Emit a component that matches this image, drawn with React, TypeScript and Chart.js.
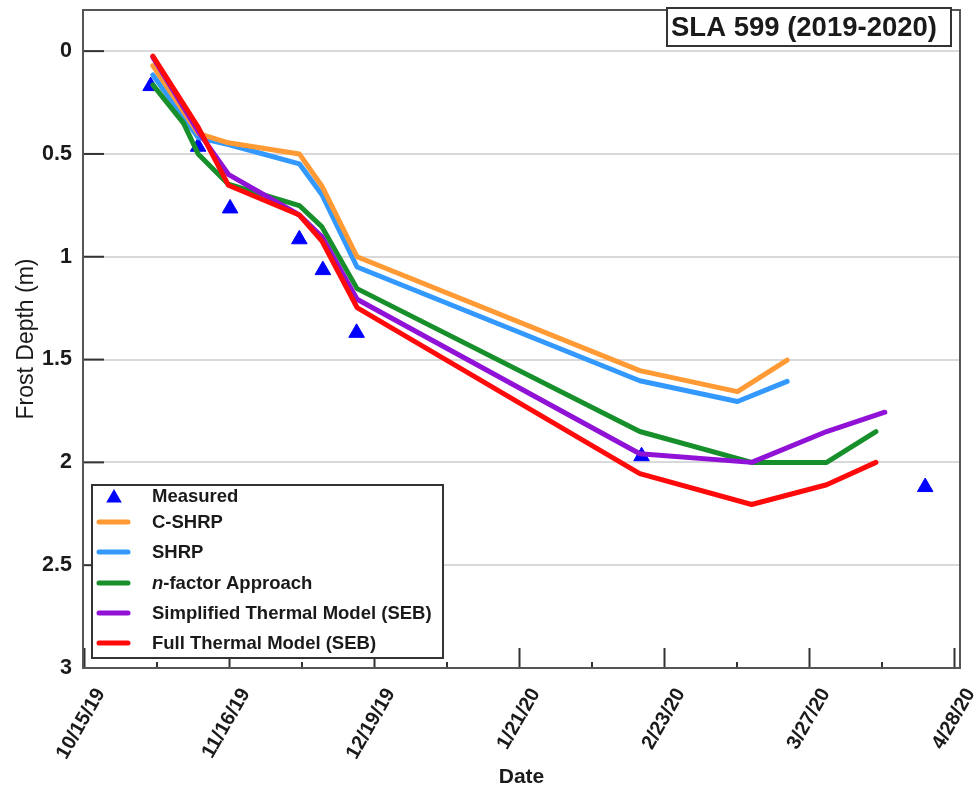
import React, { useEffect, useRef } from 'react';
import { Chart, registerables } from 'chart.js';

Chart.register(...registerables);

// ---- data (x in days after 10/15/19, y = frost depth in m) ----
const X_TICK_LABELS = ['10/15/19', '11/16/19', '12/19/19', '1/21/20', '2/23/20', '3/27/20', '4/28/20'];
const X_TICK_DAYS = [0, 32.667, 65.333, 98, 130.667, 163.333, 196];
const Y_TICK_VALUES = [0, 0.5, 1, 1.5, 2, 2.5, 3];

const MEASURED_DAYS = [14.9, 25.6, 32.8, 48.4, 53.7, 61.3, 125.5, 189.4];
const MEASURED_DEPTH = [0.17, 0.465, 0.765, 0.915, 1.065, 1.37, 1.97, 2.12];

const CSHRP_DAYS = [15.4, 25.6, 32.4, 48.4, 53.5, 61.4, 125.1, 147.1, 158.3];
const CSHRP_DEPTH = [0.07, 0.4, 0.446, 0.5, 0.657, 1.0, 1.554, 1.656, 1.503];

const SHRP_DAYS = [15.4, 25.6, 32.4, 48.4, 53.5, 61.4, 125.1, 147.1, 158.3];
const SHRP_DEPTH = [0.116, 0.42, 0.454, 0.548, 0.698, 1.05, 1.603, 1.704, 1.606];

const NFACTOR_DAYS = [15.4, 22.3, 25.6, 32.4, 48.4, 53.5, 61.4, 125.1, 150.3, 167.2, 178.3];
const NFACTOR_DEPTH = [0.164, 0.35, 0.5, 0.647, 0.751, 0.855, 1.155, 1.85, 2.0, 2.0, 1.85];

const SIMPLIFIED_DAYS = [15.4, 25.6, 32.4, 48.4, 53.5, 61.4, 125.1, 150.3, 167.2, 180.3];
const SIMPLIFIED_DEPTH = [0.03, 0.39, 0.599, 0.797, 0.903, 1.207, 1.958, 2.0, 1.85, 1.756];

const FULL_DAYS = [15.4, 25.6, 32.4, 48.4, 53.5, 61.4, 125.1, 150.3, 167.2, 178.3];
const FULL_DEPTH = [0.024, 0.37, 0.652, 0.797, 0.924, 1.247, 2.055, 2.205, 2.109, 2.0];

const SERIES_LABELS = [
  'Measured',
  'C-SHRP',
  'SHRP',
  'n-factor Approach',
  'Simplified Thermal Model (SEB)',
  'Full Thermal Model (SEB)',
];
const SERIES_COLORS = ['#0000FF', '#FF9A35', '#3399FF', '#17902B', '#9012D6', '#FF0A0A'];
const CHART_TITLE = 'SLA 599 (2019-2020)';

const FONT = "'Liberation Sans', Arial, sans-serif";
const TEXT_COLOR = '#1a1a1a';

const pts = (xs: number[], ys: number[]) => xs.map((x, i) => ({ x, y: ys[i] }));

const decorPlugin = {
  id: 'decor',
  afterDraw(chart: any) {
    const { ctx, chartArea: a, scales } = chart;
    const xs = scales.x;
    const ys = scales.y;
    ctx.save();
    const seg = (x1: number, y1: number, x2: number, y2: number) => {
      ctx.beginPath();
      ctx.moveTo(x1, y1);
      ctx.lineTo(x2, y2);
      ctx.stroke();
    };
    // inward tick marks
    ctx.strokeStyle = '#333';
    ctx.lineWidth = 2;
    Y_TICK_VALUES.forEach((v) => {
      const y = ys.getPixelForValue(v);
      seg(a.left, y, a.left + 21, y);
    });
    X_TICK_DAYS.forEach((d, i) => {
      const x = xs.getPixelForValue(d);
      seg(x, a.bottom, x, a.bottom - 20);
      if (i < X_TICK_DAYS.length - 1) {
        const xm = xs.getPixelForValue((d + X_TICK_DAYS[i + 1]) / 2);
        seg(xm, a.bottom, xm, a.bottom - 6);
      }
    });
    // frame
    ctx.strokeStyle = '#555';
    ctx.lineWidth = 2;
    ctx.strokeRect(a.left, a.top, a.right - a.left, a.bottom - a.top);

    // title box
    const tbx = 667, tby = 8, tbw = 284, tbh = 38;
    ctx.fillStyle = '#fff';
    ctx.fillRect(tbx, tby, tbw, tbh);
    ctx.strokeStyle = '#333';
    ctx.lineWidth = 2;
    ctx.strokeRect(tbx, tby, tbw, tbh);
    ctx.fillStyle = TEXT_COLOR;
    ctx.font = `bold 27.5px ${FONT}`;
    ctx.textBaseline = 'middle';
    ctx.textAlign = 'left';
    ctx.fillText(CHART_TITLE, tbx + 4, tby + 20);

    // legend box
    const lx = 92, ly = 485, lw = 351, lh = 173;
    ctx.fillStyle = '#fff';
    ctx.fillRect(lx, ly, lw, lh);
    ctx.strokeStyle = '#333';
    ctx.lineWidth = 2;
    ctx.strokeRect(lx, ly, lw, lh);
    const rowY = [496, 522, 552, 583, 613, 643];
    const ds = chart.data.datasets;
    ds.forEach((d: any, i: number) => {
      const y = rowY[i];
      if (i === 0) {
        ctx.fillStyle = d.backgroundColor;
        const r = 9, cx = 114, cy = y + 2;
        ctx.beginPath();
        ctx.moveTo(cx, cy - r);
        ctx.lineTo(cx + r * 0.866, cy + r / 2);
        ctx.lineTo(cx - r * 0.866, cy + r / 2);
        ctx.closePath();
        ctx.fill();
      } else {
        ctx.strokeStyle = d.borderColor;
        ctx.lineWidth = 5;
        ctx.lineCap = 'round';
        seg(99, y, 128, y);
      }
      ctx.fillStyle = TEXT_COLOR;
      ctx.textAlign = 'left';
      ctx.textBaseline = 'middle';
      const label: string = d.label;
      let tx = 152;
      if (label.startsWith('n-')) {
        ctx.font = `italic bold 18.5px ${FONT}`;
        ctx.fillText('n', tx, y + 1);
        tx += ctx.measureText('n').width;
        ctx.font = `bold 18.5px ${FONT}`;
        ctx.fillText(label.slice(1), tx, y + 1);
      } else {
        ctx.font = `bold 18.5px ${FONT}`;
        ctx.fillText(label, tx, y + 1);
      }
    });
    ctx.restore();
  },
};

export default function App() {
  const ref = useRef<HTMLCanvasElement>(null);
  useEffect(() => {
    if (!ref.current) return;
    const lineDs = (idx: number, xs: number[], ys: number[], order: number) => ({
      label: SERIES_LABELS[idx],
      data: pts(xs, ys),
      borderColor: SERIES_COLORS[idx],
      backgroundColor: SERIES_COLORS[idx],
      borderWidth: 5,
      pointRadius: 0,
      borderJoinStyle: 'round',
      borderCapStyle: 'round',
      tension: 0,
      showLine: true,
      order,
    });
    const chart = new Chart(ref.current, {
      type: 'scatter',
      data: {
        datasets: [
          {
            label: SERIES_LABELS[0],
            data: pts(MEASURED_DAYS, MEASURED_DEPTH),
            showLine: false,
            pointStyle: 'triangle',
            pointRadius: 9,
            borderWidth: 1,
            backgroundColor: SERIES_COLORS[0],
            borderColor: SERIES_COLORS[0],
            order: 6,
          } as any,
          lineDs(1, CSHRP_DAYS, CSHRP_DEPTH, 4) as any,
          lineDs(2, SHRP_DAYS, SHRP_DEPTH, 5) as any,
          lineDs(3, NFACTOR_DAYS, NFACTOR_DEPTH, 3) as any,
          lineDs(4, SIMPLIFIED_DAYS, SIMPLIFIED_DEPTH, 2) as any,
          lineDs(5, FULL_DAYS, FULL_DEPTH, 1) as any,
        ],
      },
      options: {
        animation: false,
        responsive: false,
        layout: { padding: { left: 0, top: 6, right: 19, bottom: 0 } },
        plugins: { legend: { display: false }, tooltip: { enabled: false }, title: { display: false } },
        scales: {
          x: {
            type: 'linear',
            min: -0.34,
            max: 197.24,
            grid: { display: false },
            border: { display: true, color: '#555', width: 2 },
            afterBuildTicks: (s: any) => {
              s.ticks = X_TICK_DAYS.map((v) => ({ value: v }));
            },
            afterFit: (s: any) => {
              s.height = 123;
              s.paddingLeft = 0;
              s.paddingRight = 0;
            },
            ticks: {
              autoSkip: false,
              minRotation: 60,
              maxRotation: 60,
              padding: 8,
              labelOffset: 16,
              color: TEXT_COLOR,
              font: { family: FONT, size: 20, weight: 'bold' },
              callback: (_v: any, i: number) => X_TICK_LABELS[i],
            },
            title: {
              display: true,
              text: 'Date',
              color: TEXT_COLOR,
              font: { family: FONT, size: 21, weight: 'bold' },
              padding: { top: 0, bottom: 1 },
            },
          },
          y: {
            type: 'linear',
            reverse: true,
            min: -0.2,
            max: 3,
            grid: { display: true, color: '#d9d9d9', lineWidth: 2, drawTicks: false },
            border: { display: true, color: '#555', width: 2 },
            afterBuildTicks: (s: any) => {
              s.ticks = Y_TICK_VALUES.map((v) => ({ value: v }));
            },
            afterFit: (s: any) => {
              s.width = 83;
              s.paddingTop = 0;
              s.paddingBottom = 0;
            },
            ticks: {
              padding: 11,
              color: TEXT_COLOR,
              font: { family: FONT, size: 21.5, weight: 'bold' },
              callback: (v: any) => String(v),
            },
            title: {
              display: true,
              text: 'Frost Depth (m)',
              color: TEXT_COLOR,
              font: { family: FONT, size: 23, weight: 'normal' },
              padding: { top: 13, bottom: 0 },
            },
          },
        },
      } as any,
      plugins: [decorPlugin],
    });
    return () => chart.destroy();
  }, []);
  return (
    <div style={{ position: 'fixed', left: 0, top: 0, width: 979, height: 791, background: '#fff' }}>
      <canvas ref={ref} width={979} height={791} style={{ display: 'block', width: 979, height: 791 }} />
    </div>
  );
}
